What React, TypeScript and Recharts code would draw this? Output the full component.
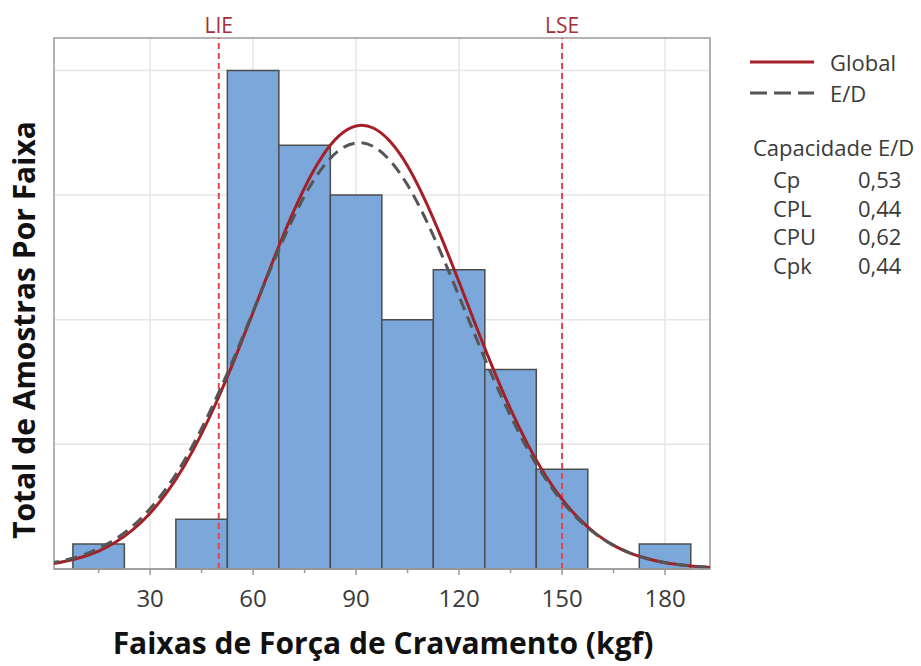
import {
  CartesianGrid,
  ComposedChart,
  Line,
  ReferenceArea,
  ReferenceLine,
  XAxis,
  YAxis,
} from 'recharts'

// histogram bins (kgf), width 15
const binStarts = [7.5, 37.5, 52.5, 67.5, 82.5, 97.5, 112.5, 127.5, 142.5, 172.5]
const binWidth = 15
const binCounts = [1, 2, 20, 17, 15, 10, 12, 8, 4, 1]

// curves
const curveX = [
  0, 5, 10, 15, 20, 25, 30, 35, 40, 45, 50, 55, 60, 65, 70, 75, 80, 85, 90, 95,
  100, 105, 110, 115, 120, 125, 130, 135, 140, 145, 150, 155, 160, 165, 170,
  175, 180, 185, 190, 195,
]
const globalY = [
  0.18, 0.3, 0.47, 0.72, 1.08, 1.58, 2.24, 3.09, 4.15, 5.43, 6.91, 8.55, 10.3,
  12.08, 13.78, 15.29, 16.52, 17.37, 17.77, 17.69, 17.14, 16.17, 14.83, 13.24,
  11.51, 9.73, 8.01, 6.41, 5.0, 3.79, 2.8, 2.01, 1.4, 0.95, 0.63, 0.41, 0.25,
  0.16, 0.09, 0.05,
]
const withinY = [
  0.22, 0.35, 0.54, 0.82, 1.21, 1.73, 2.42, 3.29, 4.36, 5.64, 7.08, 8.66, 10.34,
  12.01, 13.58, 14.97, 16.06, 16.79, 17.09, 16.95, 16.37, 15.4, 14.11, 12.59,
  10.94, 9.26, 7.64, 6.14, 4.8, 3.66, 2.71, 1.96, 1.38, 0.95, 0.63, 0.41, 0.26,
  0.16, 0.1, 0.06,
]

const xTicks = [15, 30, 45, 60, 75, 90, 105, 120, 135, 150, 165, 180]
const xGrid = [30, 60, 90, 120, 150, 180]
const yGrid = [5, 10, 15, 20]
const specLimits = [
  { label: 'LIE', value: 50 },
  { label: 'LSE', value: 150 },
]

const capLabels = ['Cp', 'CPL', 'CPU', 'Cpk']
const capValues = ['0,53', '0,44', '0,62', '0,44']

const X_DOMAIN: [number, number] = [2, 193.1]
const Y_DOMAIN: [number, number] = [0, 21.3]
const FONT = '"Open Sans", "Noto Sans", sans-serif'

const curveData = curveX.map((x, i) => ({ x, global: globalY[i], within: withinY[i] }))

function XTick({ x, y, payload }: any) {
  const major = payload.value % 30 === 0
  return (
    <g>
      <line x1={x} x2={x} y1={y} y2={y + (major ? 6 : 4)} stroke="#999" strokeWidth={1.5} />
      {major && (
        <text
          x={x}
          y={y + 21}
          dy="0.71em"
          textAnchor="middle"
          fill="#3a3a3a"
          fontSize={24}
          fontFamily={FONT}
        >
          {payload.value}
        </text>
      )}
    </g>
  )
}

export default function App() {
  return (
    <div style={{ position: 'relative', width: 921, height: 666, fontFamily: FONT, background: '#fff' }}>
      <style>{'body{margin:0}'}</style>
      <ComposedChart
        width={921}
        height={666}
        data={curveData}
        margin={{ top: 38, right: 211, bottom: 37, left: 54 }}
      >
        <CartesianGrid
          stroke="#e6e6e6"
          strokeWidth={1.5}
          horizontalValues={yGrid}
          verticalValues={xGrid}
        />
        <XAxis
          dataKey="x"
          type="number"
          domain={X_DOMAIN}
          allowDataOverflow
          ticks={xTicks}
          interval={0}
          height={60}
          tickSize={0}
          tickMargin={0}
          tickLine={false}
          tick={<XTick />}
          stroke="#9a9a9a"
          strokeWidth={1.5}
        />
        <YAxis type="number" domain={Y_DOMAIN} allowDataOverflow hide />
        {binStarts.map((s, i) => (
          <ReferenceArea
            key={s}
            x1={s}
            x2={s + binWidth}
            y1={0}
            y2={binCounts[i]}
            fill="#7ba7db"
            fillOpacity={1}
            stroke="#4d4d4d"
            strokeWidth={1.5}
          />
        ))}
        {specLimits.map((l) => (
          <ReferenceLine
            key={l.label}
            x={l.value}
            stroke="#e8434c"
            strokeWidth={2}
            strokeDasharray="6 4"
            label={{
              value: l.label,
              position: 'top',
              offset: 5,
              fill: '#a3303a',
              fontSize: 21,
              fontFamily: FONT,
            }}
          />
        ))}
        <Line
          dataKey="global"
          type="natural"
          stroke="#a51f27"
          strokeWidth={3}
          dot={false}
          isAnimationActive={false}
        />
        <Line
          dataKey="within"
          type="natural"
          stroke="#555"
          strokeWidth={3}
          strokeDasharray="12 7"
          dot={false}
          isAnimationActive={false}
        />
        <ReferenceArea
          x1={X_DOMAIN[0]}
          x2={X_DOMAIN[1]}
          y1={Y_DOMAIN[0]}
          y2={Y_DOMAIN[1]}
          fill="none"
          stroke="#9a9a9a"
          strokeWidth={1.5}
        />
      </ComposedChart>

      {/* axis titles */}
      <div
        style={{
          position: 'absolute',
          left: 0,
          width: 766,
          top: 625,
          textAlign: 'center',
          fontSize: 30,
          fontWeight: 700,
          color: '#111',
          lineHeight: '36px',
        }}
      >
        Faixas de Força de Cravamento (kgf)
      </div>
      <div
        style={{
          position: 'absolute',
          left: 24,
          top: 330,
          transform: 'translate(-50%, -50%) rotate(-90deg)',
          whiteSpace: 'nowrap',
          fontSize: 30,
          fontWeight: 700,
          color: '#111',
          lineHeight: '36px',
        }}
      >
        Total de Amostras Por Faixa
      </div>

      {/* legend */}
      <div style={{ position: 'absolute', left: 750, top: 48, color: '#3a3a3a', fontSize: 22 }}>
        <div style={{ display: 'flex', alignItems: 'center', height: 28 }}>
          <svg width={64} height={6}>
            <line x1={0} x2={64} y1={3} y2={3} stroke="#a51f27" strokeWidth={3} />
          </svg>
          <span style={{ marginLeft: 16 }}>Global</span>
        </div>
        <div style={{ display: 'flex', alignItems: 'center', height: 28, marginTop: 3 }}>
          <svg width={64} height={6}>
            <line x1={0} x2={64} y1={3} y2={3} stroke="#555" strokeWidth={3} strokeDasharray="17 7" />
          </svg>
          <span style={{ marginLeft: 16 }}>E/D</span>
        </div>
      </div>
      <div style={{ position: 'absolute', left: 753, top: 132, color: '#3a3a3a', fontSize: 22 }}>
        <div style={{ height: 33, lineHeight: '30px' }}>Capacidade E/D</div>
        {capLabels.map((c, i) => (
          <div key={c} style={{ display: 'flex', height: 28.5, lineHeight: '28px' }}>
            <span style={{ marginLeft: 20, width: 85 }}>{c}</span>
            <span>{capValues[i]}</span>
          </div>
        ))}
      </div>
    </div>
  )
}
